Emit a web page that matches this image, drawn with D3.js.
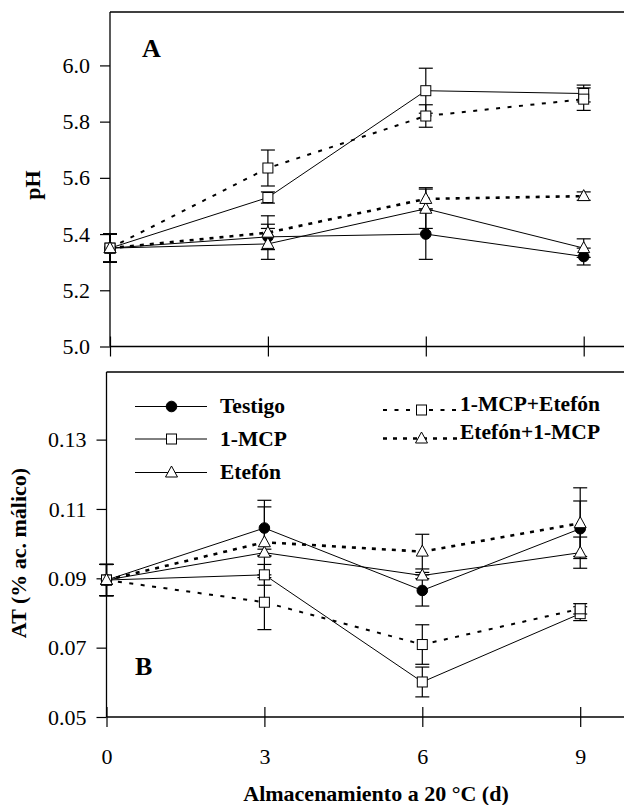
<!DOCTYPE html>
<html>
<head>
<meta charset="utf-8">
<script src="https://cdn.jsdelivr.net/npm/d3@7"></script>
<style>
  body { margin: 0; background: #fff; }
  svg { display: block; }
</style>
</head>
<body>
<svg id="chart" width="624" height="805"></svg>
<script>
const FONT = "'Liberation Serif', 'DejaVu Serif', serif";

// storage days
const days = [0, 3, 6, 9];

// panel A: pH
const phTestigo = [5.35, 5.39, 5.40, 5.32];
const phTestigoErr = [0.05, 0.045, 0.09, 0.03];
const phMcp = [5.35, 5.53, 5.91, 5.90];
const phMcpErr = [0.05, 0.02, 0.08, 0.03];
const phEtefon = [5.35, 5.365, 5.49, 5.35];
const phEtefonErr = [0.05, 0.055, 0.07, 0.033];
const phMcpEt = [5.35, 5.635, 5.82, 5.88];
const phMcpEtErr = [0.05, 0.064, 0.04, 0.04];
const phEtMcp = [5.35, 5.405, 5.525, 5.535];
const phEtMcpErr = [0.05, 0.06, 0.04, 0.015];
const phTicks = [5.0, 5.2, 5.4, 5.6, 5.8, 6.0];

// panel B: titratable acidity
const atTestigo = [0.0895, 0.1045, 0.0865, 0.1043];
const atTestigoErr = [0.0045, 0.008, 0.0045, 0.008];
const atMcp = [0.0895, 0.091, 0.0601, 0.0798];
const atMcpErr = [0.0045, 0.003, 0.0043, 0.002];
const atEtefon = [0.0895, 0.0974, 0.0908, 0.0974];
const atEtefonErr = [0.0045, 0.001, 0.0009, 0.0045];
const atMcpEt = [0.0895, 0.0831, 0.0709, 0.0812];
const atMcpEtErr = [0.0045, 0.0079, 0.0057, 0.0015];
const atEtMcp = [0.0895, 0.1004, 0.0977, 0.1059];
const atEtMcpErr = [0.0045, 0.0102, 0.005, 0.0102];
const atTicks = [0.05, 0.07, 0.09, 0.11, 0.13];

const seriesNames = ["Testigo", "1-MCP", "Etefón", "1-MCP+Etefón", "Etefón+1-MCP"];

// line/marker style per series
const styles = {
  "Testigo": { marker: "circle", dash: null, width: 1 },
  "1-MCP": { marker: "square", dash: null, width: 1 },
  "Etefón": { marker: "triangle", dash: null, width: 1 },
  "1-MCP+Etefón": { marker: "square", dash: "4,7.5", width: 2 },
  "Etefón+1-MCP": { marker: "triangle", dash: "4,6", width: 2.6 },
};

const svg = d3.select("#chart");

const drawMarker = (g, type, x, y) => {
  if (type === "circle") {
    g.append("circle").attr("cx", x).attr("cy", y).attr("r", 5.3)
      .attr("fill", "#000").attr("stroke", "#000");
  } else if (type === "square") {
    g.append("rect").attr("x", x - 5).attr("y", y - 5)
      .attr("width", 10).attr("height", 10)
      .attr("fill", "#fff").attr("stroke", "#000").attr("stroke-width", 1);
  } else {
    g.append("path")
      .attr("d", `M${x},${y - 6.5}L${x + 6},${y + 4.5}L${x - 6},${y + 4.5}Z`)
      .attr("fill", "#fff").attr("stroke", "#000").attr("stroke-width", 1);
  }
};

const drawPanel = (opts) => {
  const x = d3.scaleLinear().domain([0, 9]).range([opts.left, opts.left + 473.7]);
  const y = d3.scaleLinear().domain(opts.yDomain).range([opts.bottom, opts.top]);
  const g = svg.append("g");

  // frame: top and left lines, bottom axis line
  g.append("line").attr("x1", opts.left).attr("x2", 624)
    .attr("y1", opts.top).attr("y2", opts.top).attr("stroke", "#000").attr("stroke-width", 1.3);
  g.append("line").attr("x1", opts.left).attr("x2", opts.left)
    .attr("y1", opts.top).attr("y2", opts.bottom).attr("stroke", "#000").attr("stroke-width", 1.3);
  g.append("line").attr("x1", opts.left).attr("x2", 624)
    .attr("y1", opts.bottom).attr("y2", opts.bottom).attr("stroke", "#000").attr("stroke-width", 1.3);

  const yAxis = g.append("g")
    .attr("transform", `translate(${opts.left},0)`)
    .call(d3.axisLeft(y).tickValues(opts.ticks).tickFormat(d3.format(opts.fmt))
      .tickSize(10).tickPadding(10));
  yAxis.attr("font-family", FONT);
  yAxis.select(".domain").remove();
  yAxis.selectAll("line").attr("stroke-width", 1.2);
  yAxis.selectAll("text").style("font-size", "22px").style("font-family", FONT);

  const xAxis = g.append("g")
    .attr("transform", `translate(0,${opts.bottom})`)
    .call(d3.axisBottom(x).tickValues(days).tickFormat(opts.xLabels ? d3.format("d") : "")
      .tickSize(10).tickPadding(21));
  xAxis.attr("font-family", FONT);
  xAxis.select(".domain").remove();
  xAxis.selectAll("line").attr("y1", -10).attr("y2", 10).attr("stroke-width", 1.2);
  xAxis.selectAll("text").style("font-size", "22px").style("font-family", FONT);

  const line = d3.line().x((d) => x(d[0])).y((d) => y(d[1]));

  // lines
  opts.series.forEach((s) => {
    const st = styles[s.name];
    g.append("path")
      .datum(days.map((d, i) => [d, s.values[i]]))
      .attr("d", line)
      .attr("fill", "none")
      .attr("stroke", "#000")
      .attr("stroke-width", st.width)
      .attr("stroke-dasharray", st.dash);
  });

  // error bars
  opts.series.forEach((s) => {
    days.forEach((d, i) => {
      const cx = x(d);
      const y0 = y(s.values[i] - s.err[i]);
      const y1 = y(s.values[i] + s.err[i]);
      g.append("line").attr("x1", cx).attr("x2", cx).attr("y1", y0).attr("y2", y1)
        .attr("stroke", "#000").attr("stroke-width", 1.2);
      [y0, y1].forEach((yy) => {
        g.append("line").attr("x1", cx - 7).attr("x2", cx + 7).attr("y1", yy).attr("y2", yy)
          .attr("stroke", "#000").attr("stroke-width", 1.2);
      });
    });
  });

  // markers
  opts.series.forEach((s) => {
    days.forEach((d, i) => {
      drawMarker(g, styles[s.name].marker, x(d), y(s.values[i]));
    });
  });

  g.append("text")
    .attr("x", opts.letterX).attr("y", opts.letterY)
    .style("font-family", FONT)
    .style("font-size", "26px").style("font-weight", "bold")
    .text(opts.letter);

  g.append("text")
    .attr("transform", `translate(${opts.titleX},${opts.titleY}) rotate(-90)`)
    .attr("text-anchor", "middle")
    .style("font-family", FONT)
    .style("font-size", "22px").style("font-weight", "bold")
    .text(opts.title);
};

drawPanel({
  left: 110, top: 12, bottom: 346.5,
  yDomain: [5.0, 6.19], ticks: phTicks, fmt: ".1f", xLabels: false,
  letter: "A", letterX: 142, letterY: 56.5,
  title: "pH", titleX: 40, titleY: 185,
  series: [
    { name: "Testigo", values: phTestigo, err: phTestigoErr },
    { name: "1-MCP", values: phMcp, err: phMcpErr },
    { name: "Etefón", values: phEtefon, err: phEtefonErr },
    { name: "1-MCP+Etefón", values: phMcpEt, err: phMcpEtErr },
    { name: "Etefón+1-MCP", values: phEtMcp, err: phEtMcpErr },
  ],
});

drawPanel({
  left: 106.5, top: 372, bottom: 717,
  yDomain: [0.05, 0.1495], ticks: atTicks, fmt: ".2f", xLabels: true,
  letter: "B", letterX: 135, letterY: 675,
  title: "AT (% ac. málico)", titleX: 26, titleY: 553,
  series: [
    { name: "Testigo", values: atTestigo, err: atTestigoErr },
    { name: "1-MCP", values: atMcp, err: atMcpErr },
    { name: "Etefón", values: atEtefon, err: atEtefonErr },
    { name: "1-MCP+Etefón", values: atMcpEt, err: atMcpEtErr },
    { name: "Etefón+1-MCP", values: atEtMcp, err: atEtMcpErr },
  ],
});

// x axis title
svg.append("text")
  .attr("x", 376).attr("y", 801)
  .attr("text-anchor", "middle")
  .style("font-family", FONT)
  .style("font-size", "22px").style("font-weight", "bold")
  .text("Almacenamiento a 20 °C (d)");

// legend
const legendItems = [
  { name: "Testigo", x1: 135, x2: 207, mx: 171.5, ly: 406.5, ty: 405 },
  { name: "1-MCP", x1: 135, x2: 207, mx: 171.5, ly: 439, ty: 438 },
  { name: "Etefón", x1: 135, x2: 207, mx: 171.5, ly: 472.5, ty: 471 },
  { name: "1-MCP+Etefón", x1: 383, x2: 458, mx: 421.5, ly: 410, ty: 403 },
  { name: "Etefón+1-MCP", x1: 383, x2: 458, mx: 421.5, ly: 438.5, ty: 431.5 },
];
const legend = svg.append("g");
legendItems.forEach((item) => {
  const st = styles[item.name];
  legend.append("line")
    .attr("x1", item.x1).attr("x2", item.x2).attr("y1", item.ly).attr("y2", item.ly)
    .attr("stroke", "#000").attr("stroke-width", st.width)
    .attr("stroke-dasharray", st.dash);
  drawMarker(legend, st.marker, item.mx, item.ly);
  legend.append("text")
    .attr("x", item.x1 < 300 ? 220 : 460).attr("y", item.ty)
    .attr("dy", "0.35em")
    .style("font-family", FONT)
    .style("font-size", "21.5px").style("font-weight", "bold")
    .text(item.name);
});
</script>
</body>
</html>
